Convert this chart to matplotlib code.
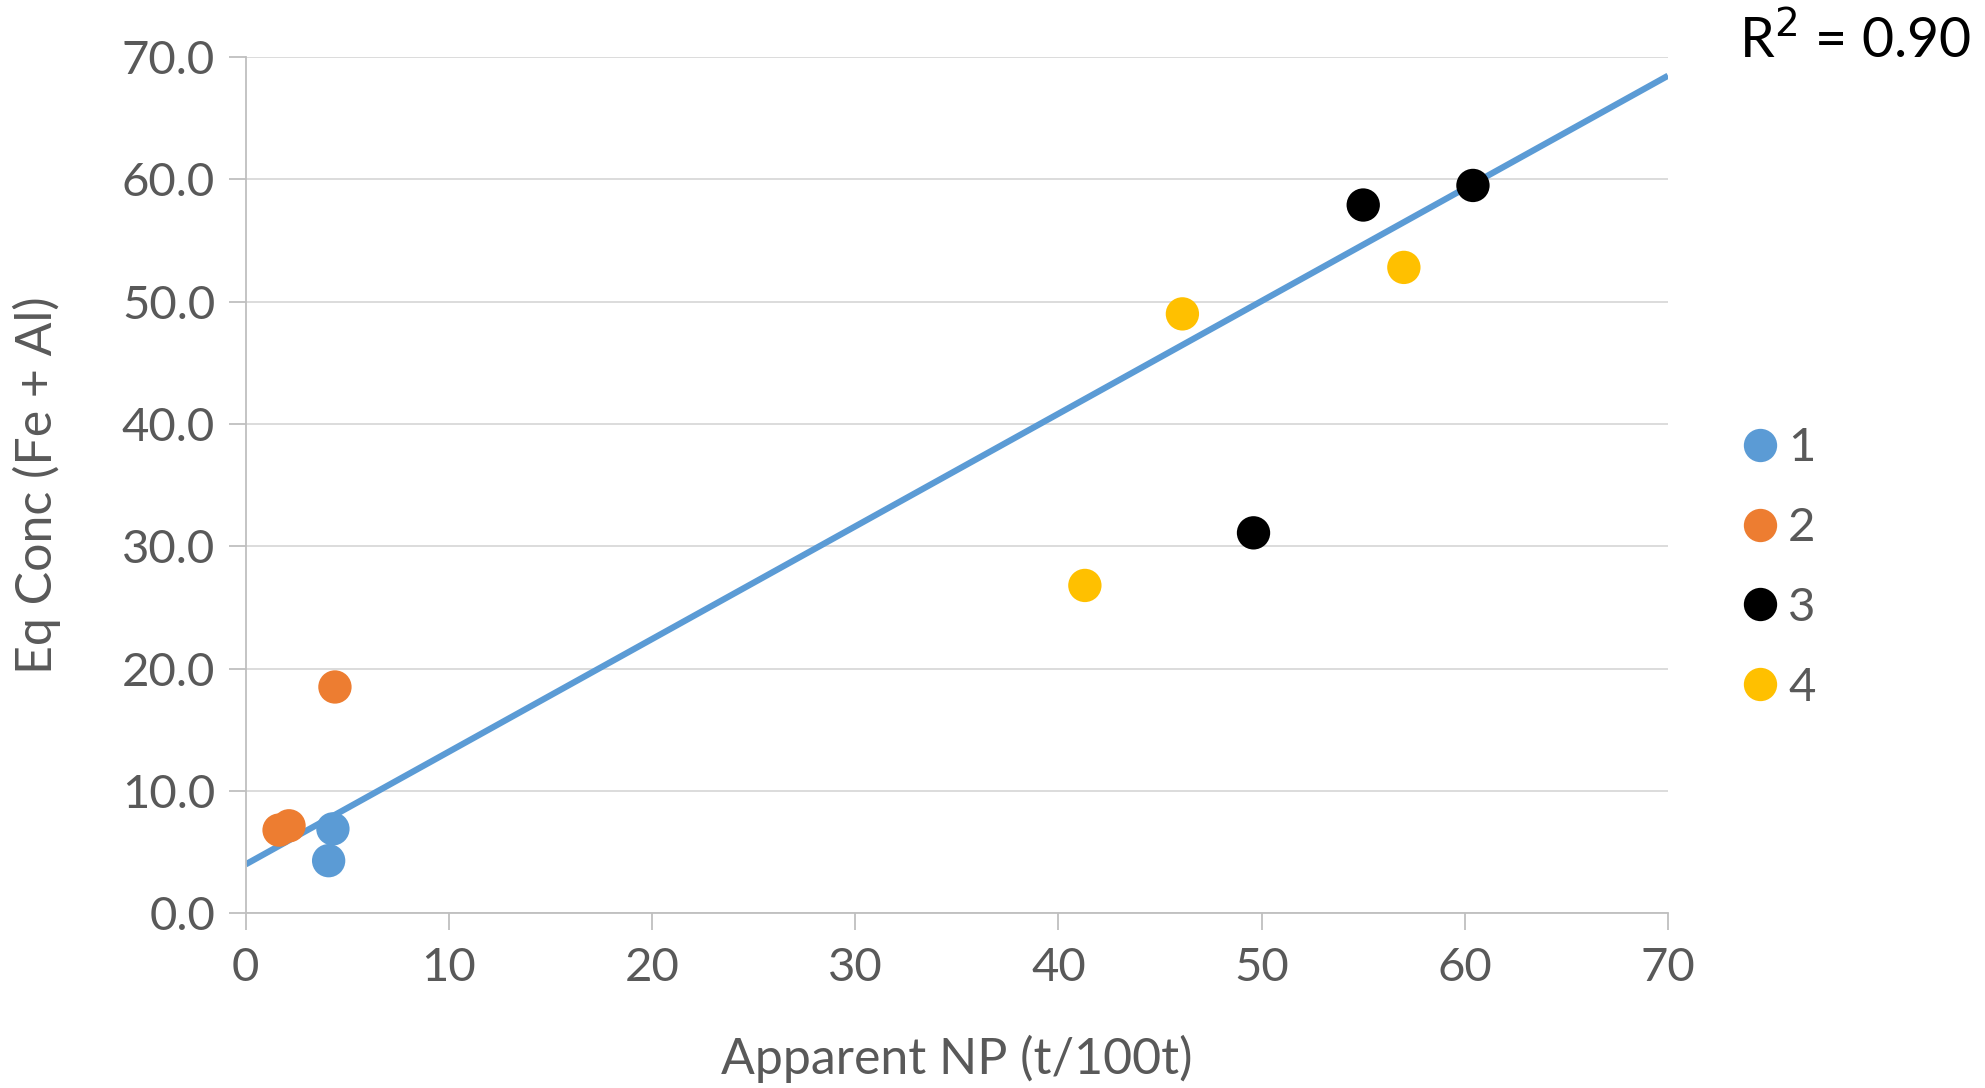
import matplotlib
matplotlib.use("Agg")
import matplotlib.pyplot as plt
import numpy as np
from matplotlib.lines import Line2D

plt.rcParams['font.family'] = ['Lato', 'DejaVu Sans']

# Data
series_names = ["1", "2", "3", "4"]
x1 = [4.29, 4.08]
y1 = [6.9, 4.3]
x2 = [1.64, 2.13, 4.39]
y2 = [6.8, 7.15, 18.5]
x3 = [49.6, 55.0, 60.4]
y3 = [31.1, 57.9, 59.5]
x4 = [41.3, 46.1, 57.0]
y4 = [26.8, 49.0, 52.8]
colors = ["#5B9BD5", "#ED7D31", "#000000", "#FFC000"]
x_ticks = [0, 10, 20, 30, 40, 50, 60, 70]
y_ticks = [0, 10, 20, 30, 40, 50, 60, 70]
# Linear trendline as shown in the chart
trend_slope = 0.921
trend_intercept = 4.0
trend_x = [0, 70]
r2_text = "R$^2$ = 0.90"

fig = plt.figure(figsize=(19.85, 10.88), dpi=100)
ax = fig.add_axes([0.1238, 0.1606, 0.8403 - 0.1238, 0.9476 - 0.1606])

xl = np.array(trend_x, dtype=float)
ax.plot(xl, trend_slope * xl + trend_intercept, color="#5B9BD5", lw=4.5, zorder=2,
        solid_capstyle='butt')

handles = []
for xs, ys, c, n in zip([x1, x2, x3, x4], [y1, y2, y3, y4], colors, series_names):
    ax.scatter(xs, ys, s=576, color=c, edgecolors='none', zorder=3)
    handles.append(Line2D([], [], marker='o', linestyle='none', markersize=24,
                          markerfacecolor=c, markeredgecolor='none', label=n))

ax.set_xlim(0, 70)
ax.set_ylim(0, 70)
ax.set_xticks(x_ticks)
ax.set_yticks(y_ticks)
ax.set_yticklabels([f"{v:.1f}" for v in y_ticks])
ax.set_xticklabels([str(v) for v in x_ticks])

for s in ['top', 'right']:
    ax.spines[s].set_visible(False)
for s in ['left', 'bottom']:
    ax.spines[s].set_color("#BFBFBF")
    ax.spines[s].set_linewidth(1.3)
ax.tick_params(axis='both', colors="#BFBFBF", labelcolor="#595959", labelsize=34,
               length=12, width=1.3, direction='out')
ax.tick_params(axis='x', pad=12)
ax.tick_params(axis='y', pad=10)
ax.yaxis.grid(True, color="#D9D9D9", lw=1.3)
ax.set_axisbelow(True)

ax.set_xlabel("Apparent NP (t/100t)", fontsize=36, color="#595959", labelpad=33)
ax.set_ylabel("Eq Conc (Fe + Al)", fontsize=36, color="#595959", labelpad=44)

fig.legend(handles=handles, loc='center left', bbox_to_anchor=(0.8747, 0.478),
           frameon=False, fontsize=34, labelcolor="#595959", handletextpad=0.1,
           labelspacing=0.8, handlelength=1.0, borderpad=0, borderaxespad=0)

fig.text(0.993, 0.963, r2_text, fontsize=40, color="black", ha='right', va='center')

fig.savefig("out.png", dpi=100)
